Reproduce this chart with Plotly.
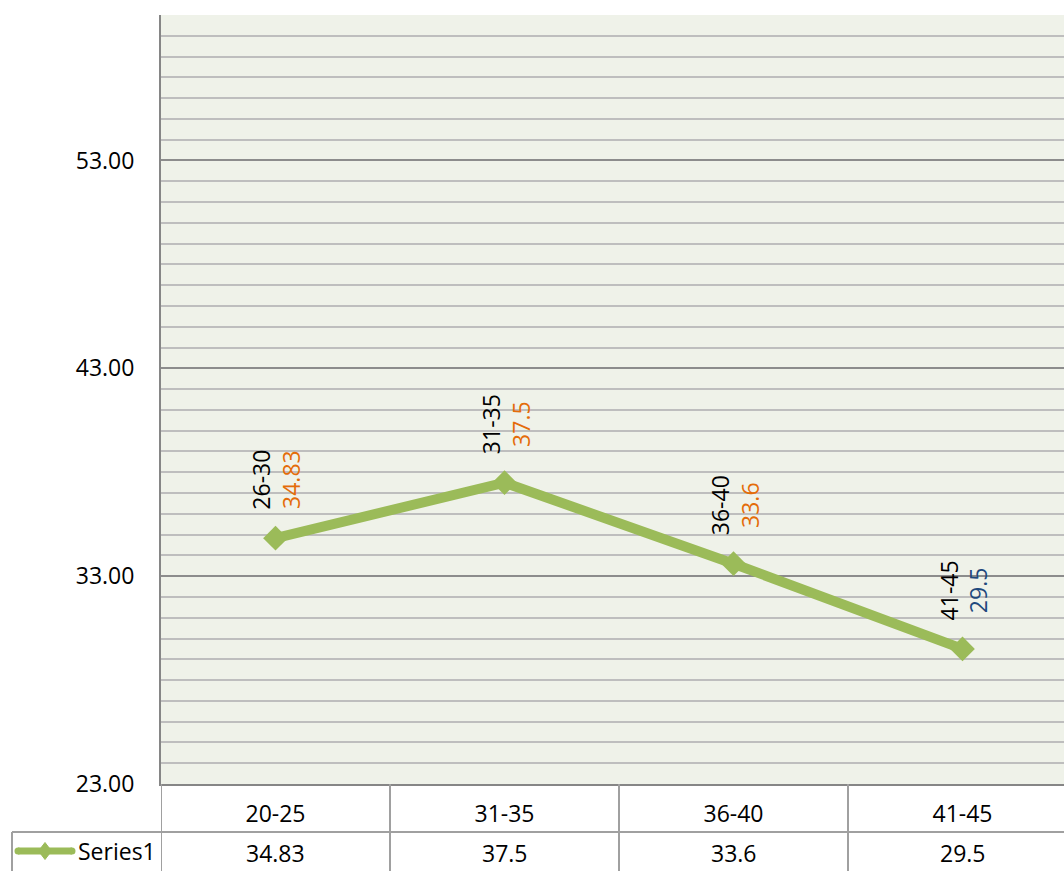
import plotly.graph_objects as go

# ---- data ----
categories = ["20-25", "31-35", "36-40", "41-45"]
point_labels = ["26-30", "31-35", "36-40", "41-45"]
series1 = [34.83, 37.5, 33.6, 29.5]
value_text = ["34.83", "37.5", "33.6", "29.5"]
y_ticks = [23, 33, 43, 53]

# ---- style ----
label_value_colors = ["#E46C0A", "#E46C0A", "#E46C0A", "#1F497D"]
GREEN = "#9BBB59"
FONT = "Open Sans"
FS = 23
W, H = 1064, 871
ML, MT = 161, 15
BOTTOM = 784
MB = H - BOTTOM
PW = W - ML
PH = BOTTOM - MT
CAT_W = 229  # pixel width of one category band


def px_x(p):
    return (p - ML) / PW


def px_y(p):
    return (BOTTOM - p) / PH


fig = go.Figure()
fig.add_trace(go.Scatter(
    x=list(range(len(categories))), y=series1, mode="lines+markers",
    name="Series1", showlegend=False, cliponaxis=False,
    line=dict(color=GREEN, width=10),
    marker=dict(symbol="diamond", size=19, color=GREEN),
))

annotations = []
for i, (lab, v, c) in enumerate(zip(point_labels, series1, label_value_colors)):
    annotations.append(dict(
        x=i, y=v, xref="x", yref="y", showarrow=False, textangle=-90,
        text=f"{lab}<br><span style='color:{c}'>{v}</span>",
        align="center", xanchor="center", yanchor="middle",
        xshift=1, yshift=58, font=dict(family=FONT, size=FS, color="black"),
    ))

# data table: value row
for i, t in enumerate(value_text):
    annotations.append(dict(
        x=i, y=px_y(853), xref="x", yref="paper", showarrow=False, text=t,
        xanchor="center", yanchor="middle",
        font=dict(family=FONT, size=FS, color="black"),
    ))
annotations.append(dict(
    x=px_x(76), y=px_y(851), xref="paper", yref="paper", showarrow=False,
    text="Series1", xanchor="left", yanchor="middle",
    font=dict(family=FONT, size=FS, color="black"),
))

TBL = "#A0A0A0"
shapes = []
for b in [-0.5, 0.5, 1.5, 2.5]:
    shapes.append(dict(type="line", xref="x", yref="paper", x0=b, x1=b,
                       y0=0, y1=px_y(875), line=dict(color=TBL, width=2)))
shapes.append(dict(type="line", xref="paper", yref="paper",
                   x0=px_x(12), x1=1, y0=px_y(832), y1=px_y(832),
                   line=dict(color=TBL, width=2)))
shapes.append(dict(type="line", xref="paper", yref="paper",
                   x0=px_x(12), x1=px_x(12), y0=px_y(832), y1=px_y(875),
                   line=dict(color=TBL, width=2)))
# legend key
shapes.append(dict(type="line", xref="paper", yref="paper",
                   x0=px_x(18), x1=px_x(72), y0=px_y(851), y1=px_y(851),
                   line=dict(color=GREEN, width=7)))
cx, cy, hw, hh = px_x(45), px_y(851), 6.5 / PW, 8.5 / PH
shapes.append(dict(type="path", xref="paper", yref="paper",
                   path=f"M {cx-hw} {cy} L {cx} {cy+hh} L {cx+hw} {cy} L {cx} {cy-hh} Z",
                   fillcolor=GREEN, line=dict(color=GREEN, width=1)))
for ex in (18, 72):
    shapes.append(dict(type="circle", xref="paper", yref="paper",
                       x0=px_x(ex - 3.5), x1=px_x(ex + 3.5),
                       y0=px_y(851 + 3.5), y1=px_y(851 - 3.5),
                       fillcolor=GREEN, line=dict(width=0)))

fig.update_layout(
    width=W, height=H,
    margin=dict(l=ML, r=0, t=MT, b=MB, autoexpand=False),
    paper_bgcolor="white", plot_bgcolor="#EFF2E9",
    font=dict(family=FONT, size=FS, color="black"),
    showlegend=False,
    annotations=annotations, shapes=shapes,
    xaxis=dict(
        range=[-0.5, -0.5 + PW / CAT_W],
        tickmode="array", tickvals=list(range(len(categories))), ticktext=categories,
        showgrid=False, zeroline=False, showline=True, linecolor="#868686", linewidth=2,
        ticks="", ticklabelstandoff=8, tickfont=dict(family=FONT, size=FS, color="black"),
    ),
    yaxis=dict(
        range=[23, 60], tickmode="array", tickvals=y_ticks,
        ticktext=[f"{t:.2f}" for t in y_ticks],
        showgrid=True, gridcolor="#8C8C8C", gridwidth=1.5, zeroline=False,
        showline=True, linecolor="#868686", linewidth=2, ticks="",
        ticklabelstandoff=20, tickfont=dict(family=FONT, size=FS, color="black"),
        minor=dict(tickmode="linear", tick0=23, dtick=1, showgrid=True,
                   gridcolor="#BEBEBE", gridwidth=1.5),
    ),
)

fig.write_html(
    "out.html",
    config={"displayModeBar": False},
    post_script="document.body.style.margin='0';document.body.style.overflow='hidden';",
)
